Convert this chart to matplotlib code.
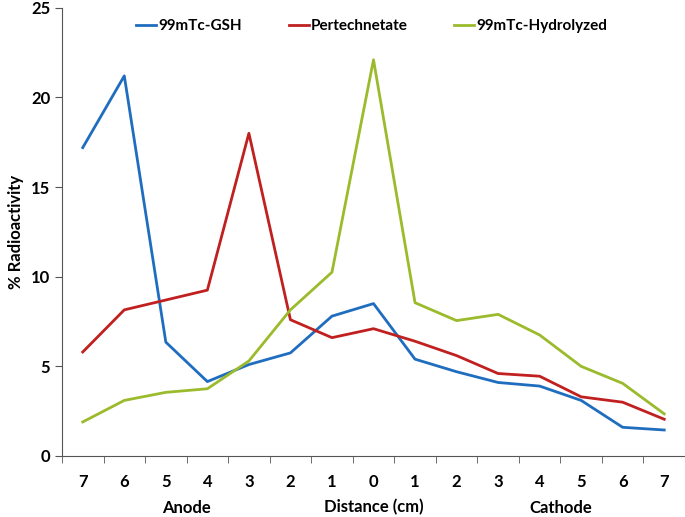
import matplotlib
matplotlib.use("Agg")
import matplotlib.pyplot as plt
import numpy as np

plt.rcParams['font.family'] = ['Lato', 'DejaVu Sans']
plt.rcParams['font.weight'] = 'bold'

# distance labels, anode side -> cathode side
distance = ["7", "6", "5", "4", "3", "2", "1", "0", "1", "2", "3", "4", "5", "6", "7"]
gsh = [17.2, 21.2, 6.35, 4.15, 5.1, 5.75, 7.8, 8.5, 5.4, 4.7, 4.1, 3.9, 3.1, 1.6, 1.45]
pertech = [5.8, 8.15, 8.7, 9.25, 18.0, 7.6, 6.6, 7.1, 6.4, 5.6, 4.6, 4.45, 3.3, 3.0, 2.05]
hydrol = [1.9, 3.1, 3.55, 3.75, 5.3, 8.15, 10.25, 22.1, 8.55, 7.55, 7.9, 6.75, 5.0, 4.05, 2.35]

fig = plt.figure(figsize=(6.85, 5.17), dpi=100)
ax = fig.add_axes([0.0905, 0.118, 0.9095, 0.867])

x = np.arange(len(distance))
ax.plot(x, gsh, color='#1F6DBF', lw=2, label='99mTc-GSH')
ax.plot(x, pertech, color='#C0201F', lw=2, label='Pertechnetate')
ax.plot(x, hydrol, color='#9BBB2C', lw=2, label='99mTc-Hydrolyzed')

ax.set_xlim(-0.5, 14.5)
ax.set_ylim(0, 25)
ax.set_yticks([0, 5, 10, 15, 20, 25])
ax.set_xticks(x)
ax.set_xticklabels(distance)
ax.set_xticks(np.arange(-0.5, 15, 1), minor=True)
ax.tick_params(axis='x', which='major', length=0, pad=13, labelsize=12)
ax.tick_params(axis='x', which='minor', length=5, direction='out', color='#555555')
ax.tick_params(axis='y', length=5, direction='out', labelsize=12, color='#555555')
for s in ['top', 'right']:
    ax.spines[s].set_visible(False)
for s in ['left', 'bottom']:
    ax.spines[s].set_color('#555555')

ax.set_ylabel('% Radioactivity', fontsize=12, fontweight='bold', labelpad=5)

# group labels below the axis
for pos, txt in [(2.5, 'Anode'), (7, 'Distance (cm)'), (11.5, 'Cathode')]:
    ax.text(pos, -0.115, txt, transform=ax.get_xaxis_transform(), ha='center',
            va='center', fontsize=12, fontweight='bold')

ax.legend(loc='upper center', bbox_to_anchor=(0.497, 1.005), ncol=3, frameon=False,
          fontsize=11, handlelength=1.3, handletextpad=0.1, columnspacing=3.1)

fig.savefig('out.png', dpi=100)
